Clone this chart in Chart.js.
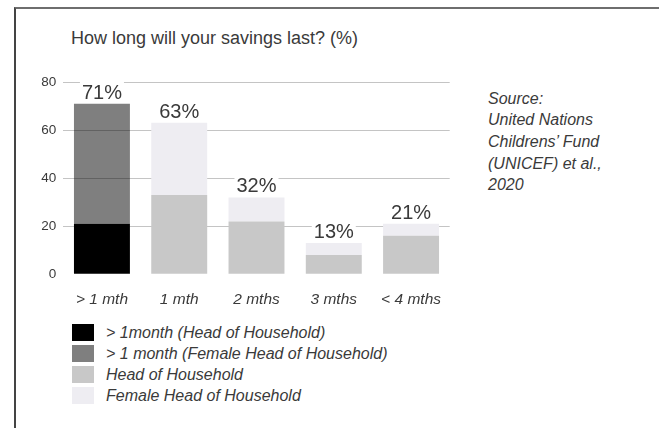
<!DOCTYPE html>
<html>
<head>
<meta charset="utf-8">
<script src="https://cdn.jsdelivr.net/npm/chart.js@4"></script>
<style>
    body { margin: 0; background: #fff; font-family: 'Liberation Sans', Arial, sans-serif; color: #3a3a3a; }
    #page { position: relative; width: 659px; height: 428px; overflow: hidden; }
    #frame { position: absolute; left: 14px; top: 7px; width: 660px; height: 430px;
             border-top: 2px solid #6e6e6e; border-left: 2px solid #444; }
    #title { position: absolute; left: 71px; top: 27px; font-size: 18px; line-height: 22px; white-space: nowrap; }
    #source { position: absolute; left: 488px; top: 87.5px; font-size: 16px; line-height: 21.7px; font-style: italic; }
    #wrap { position: absolute; left: 0; top: 0; width: 470px; height: 310px; }
    #legend { position: absolute; left: 72px; top: 324px; }
    .item { display: flex; align-items: center; height: 17px; margin-bottom: 4px; }
    .box { width: 22px; height: 17px; margin-right: 12px; }
    .txt { font-size: 16px; font-style: italic; white-space: nowrap; }
</style>
</head>
<body>
<div id="page">
    <div id="frame"></div>
    <div id="title">How long will your savings last? (%)</div>
    <div id="wrap"><canvas id="chart"></canvas></div>
    <div id="source">Source:<br>United Nations<br>Childrens’ Fund<br>(UNICEF) et al.,<br>2020</div>
    <div id="legend"></div>
</div>
<script>
document.addEventListener('DOMContentLoaded', function () {
    const categories = ['> 1 mth', '1 mth', '2 mths', '3 mths', '< 4 mths'];
    const totals = [71, 63, 32, 13, 21];
    const moreThanMonthHoH = [21, null, null, null, null];
    const moreThanMonthFemale = [50, null, null, null, null];
    const headOfHousehold = [null, 33, 22, 8, 16];
    const femaleHead = [null, 30, 10, 5, 5];
    const yTicks = [0, 20, 40, 60, 80];

    Chart.defaults.font.family = "'Liberation Sans', Arial, sans-serif";
    Chart.defaults.color = '#3a3a3a';

    // total labels on top of each stack, white box hides the grid line behind
    const totalLabels = {
        id: 'totalLabels',
        afterDatasetsDraw(chart) {
            const c = chart.ctx;
            const meta = chart.getDatasetMeta(0);
            c.save();
            c.font = '20px "Liberation Sans", Arial, sans-serif';
            c.textAlign = 'center';
            c.textBaseline = 'alphabetic';
            totals.forEach((v, i) => {
                const x = meta.data[i].x;
                const y = chart.scales.y.getPixelForValue(v) - 5;
                const txt = v + '%';
                const w = c.measureText(txt).width;
                c.fillStyle = '#fff';
                c.fillRect(x - w / 2 - 2, y - 17, w + 4, 19);
                c.fillStyle = '#3a3a3a';
                c.fillText(txt, x, y);
            });
            c.restore();
        }
    };

    const chart = new Chart(document.getElementById('chart'), {
        type: 'bar',
        data: {
            labels: categories,
            datasets: [
                { label: '> 1month (Head of Household)', data: moreThanMonthHoH, backgroundColor: '#000000' },
                { label: '> 1 month (Female Head of Household)', data: moreThanMonthFemale, backgroundColor: 'rgba(0,0,0,0.5)' },
                { label: 'Head of Household', data: headOfHousehold, backgroundColor: '#c8c8c8' },
                { label: 'Female Head of Household', data: femaleHead, backgroundColor: '#eeedf2' }
            ]
        },
        options: {
            responsive: true,
            maintainAspectRatio: false,
            animation: false,
            categoryPercentage: 0.8,
            barPercentage: 0.905,
            layout: { padding: { top: 82, right: 20.3, bottom: 0, left: 0 } },
            plugins: {
                legend: { display: false },
                tooltip: { enabled: false }
            },
            scales: {
                x: {
                    stacked: true,
                    grid: { display: false },
                    border: { display: false },
                    ticks: { font: { size: 15.5, style: 'italic' }, padding: 8 },
                    afterFit: s => { s.height = 35.7; }
                },
                y: {
                    stacked: true,
                    min: 0,
                    max: 80,
                    afterBuildTicks: s => { s.ticks = yTicks.map(v => ({ value: v })); },
                    grid: {
                        color: ctx => ctx.tick && ctx.tick.value === 0 ? 'rgba(0,0,0,0)' : '#c4c4c4',
                        drawTicks: false
                    },
                    border: { display: false },
                    ticks: { font: { size: 13.5 }, padding: 7 },
                    afterFit: s => { s.width = 63.3; }
                }
            }
        },
        plugins: [totalLabels]
    });

    // legend built from the datasets
    const legend = document.getElementById('legend');
    chart.data.datasets.forEach(ds => {
        const row = document.createElement('div');
        row.className = 'item';
        row.innerHTML = '<div class="box" style="background:' + ds.backgroundColor + '"></div><span class="txt"></span>';
        row.querySelector('.txt').textContent = ds.label;
        legend.appendChild(row);
    });
});
</script>
</body>
</html>
